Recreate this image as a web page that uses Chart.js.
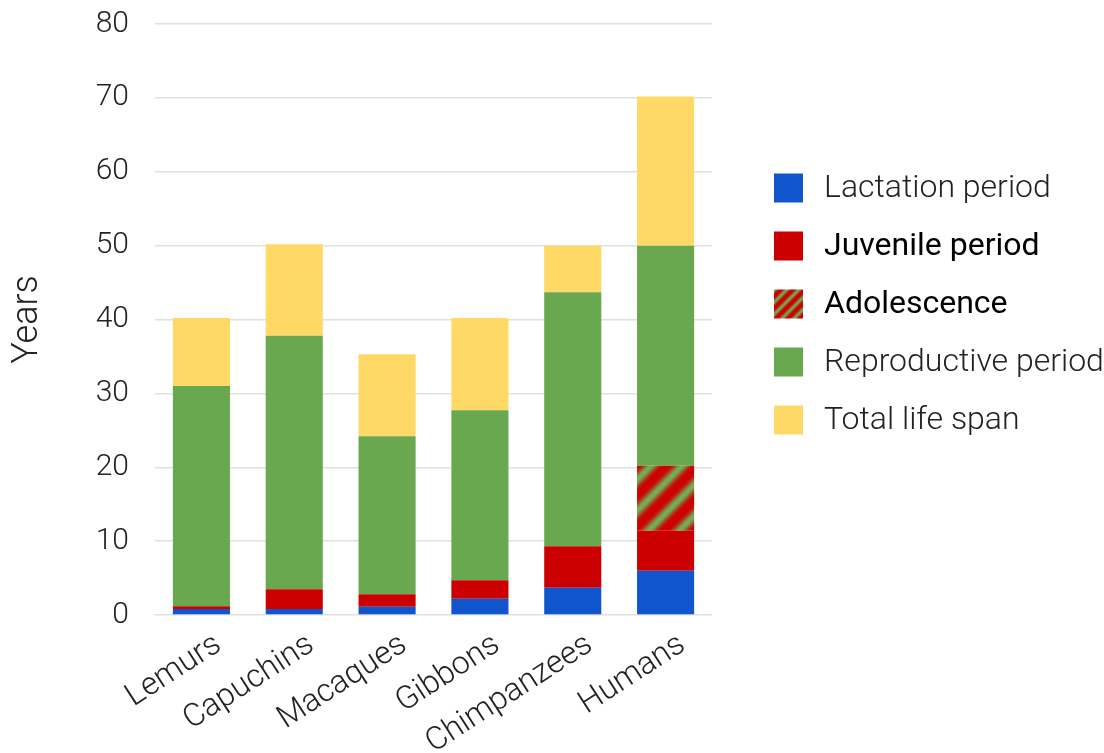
<!DOCTYPE html>
<html>
<head>
<meta charset="utf-8">
<script src="https://cdn.jsdelivr.net/npm/chart.js@4/dist/chart.umd.min.js"></script>
<style>
  html, body { margin: 0; padding: 0; background: #fff; }
  canvas { display: block; }
</style>
</head>
<body>
<canvas id="lifeChart" width="1104" height="753"></canvas>
<script>
/* 灵长类生命阶段 — 堆叠柱状图 */

const categories = ['Lemurs', 'Capuchins', 'Macaques', 'Gibbons', 'Chimpanzees', 'Humans'];
const lactation = [0.8, 0.8, 1.1, 2.2, 3.7, 6.0];
const juvenile = [0.4, 2.7, 1.7, 2.5, 5.6, 5.4];
const adolescence = [0, 0, 0, 0, 0, 8.8];
const reproductive = [29.8, 34.3, 21.4, 23.0, 34.4, 29.8];
const totalLifeSpan = [40.2, 50.2, 35.3, 40.2, 50.0, 70.2];
const yTicks = [0, 10, 20, 30, 40, 50, 60, 70, 80];

const seriesNames = ['Lactation period', 'Juvenile period', 'Adolescence', 'Reproductive period', 'Total life span'];

// the yellow part is what is left of the life span above the other stages
const lifeRemainder = totalLifeSpan.map((t, i) =>
    +(t - lactation[i] - juvenile[i] - adolescence[i] - reproductive[i]).toFixed(2));

const RED = '#cc0000', GREEN = '#6aa84f', BLUE = '#1155cc', YELLOW = '#ffd966';
const FONT = 'Roboto, "Noto Sans", sans-serif';
const TEXT = '#222';

/** 红绿斜条纹图案 */
function stripePattern(size, sharp) {
    const c = document.createElement('canvas');
    c.width = size; c.height = size;
    const g = c.getContext('2d');
    const img = g.createImageData(size, size);
    const r1 = [0xcc, 0x00, 0x00], r2 = [0x70, 0xb0, 0x58];
    for (let y = 0; y < size; y++) {
        for (let x = 0; x < size; x++) {
            const t = ((x + y) % size) / size;
            let w = (Math.cos(2 * Math.PI * t) + 1) / 2;
            w = Math.pow(w, sharp);
            const k = (y * size + x) * 4;
            for (let ch = 0; ch < 3; ch++) img.data[k + ch] = Math.round(r1[ch] * (1 - w) + r2[ch] * w);
            img.data[k + 3] = 255;
        }
    }
    g.putImageData(img, 0, 0);
    return document.getElementById('lifeChart').getContext('2d').createPattern(c, 'repeat');
}

const barStripes = stripePattern(31, 1.8);
const legendStripes = stripePattern(12, 1.8);
const colors = [BLUE, RED, barStripes, GREEN, YELLOW];
const legendColors = [BLUE, RED, legendStripes, GREEN, YELLOW];
const legendBold = [false, true, true, false, false];

/** 右侧图例（部分条目字重不同） */
const sideLegend = {
    id: 'sideLegend',
    afterDraw(chart) {
        const ctx = chart.ctx;
        ctx.save();
        seriesNames.forEach((name, i) => {
            const cy = 188 + i * 58;
            ctx.fillStyle = legendColors[i];
            ctx.save();
            ctx.translate(774, cy - 14.5);
            ctx.fillRect(0, 0, 29, 29);
            ctx.restore();
            ctx.font = (legendBold[i] ? '400 ' : '300 ') + '32px ' + FONT;
            ctx.fillStyle = legendBold[i] ? '#000' : TEXT;
            ctx.textBaseline = 'middle';
            ctx.textAlign = 'left';
            ctx.fillText(name, 824, cy + 1);
        });
        ctx.restore();
    }
};

const datasets = [lactation, juvenile, adolescence, reproductive, lifeRemainder].map((d, i) => ({
    label: seriesNames[i],
    data: d,
    backgroundColor: colors[i],
    borderWidth: 0,
    barPercentage: 0.615,
    categoryPercentage: 1
}));

new Chart(document.getElementById('lifeChart'), {
    type: 'bar',
    data: { labels: categories, datasets },
    options: {
        responsive: false,
        animation: false,
        devicePixelRatio: 1,
        layout: { padding: { top: 24, right: 392, left: 0, bottom: 0 } },
        plugins: { legend: { display: false }, tooltip: { enabled: false } },
        scales: {
            x: {
                stacked: true,
                grid: { display: false },
                border: { display: false },
                ticks: {
                    color: TEXT,
                    font: { family: FONT, size: 32, weight: 300 },
                    maxRotation: 33,
                    minRotation: 33,
                    labelOffset: 17,
                    padding: 3
                },
                afterFit(scale) { scale.height = 138; }
            },
            y: {
                stacked: true,
                min: 0,
                max: 80,
                afterBuildTicks(scale) { scale.ticks = yTicks.map(v => ({ value: v })); },
                grid: { color: '#e0e0e0', lineWidth: 1.5, drawTicks: false },
                border: { display: false },
                ticks: {
                    color: TEXT,
                    font: { family: FONT, size: 30, weight: 300 },
                    padding: 26
                },
                title: {
                    display: true,
                    text: 'Years',
                    color: TEXT,
                    font: { family: FONT, size: 36, weight: 300 },
                    padding: { top: 6, bottom: 0 }
                },
                afterFit(scale) {
                    scale.width = 155;
                    // tick padding would otherwise push the plot top down
                    scale.paddingTop = 0;
                    scale.paddingBottom = 0;
                }
            }
        }
    },
    plugins: [sideLegend]
});
</script>
</body>
</html>
